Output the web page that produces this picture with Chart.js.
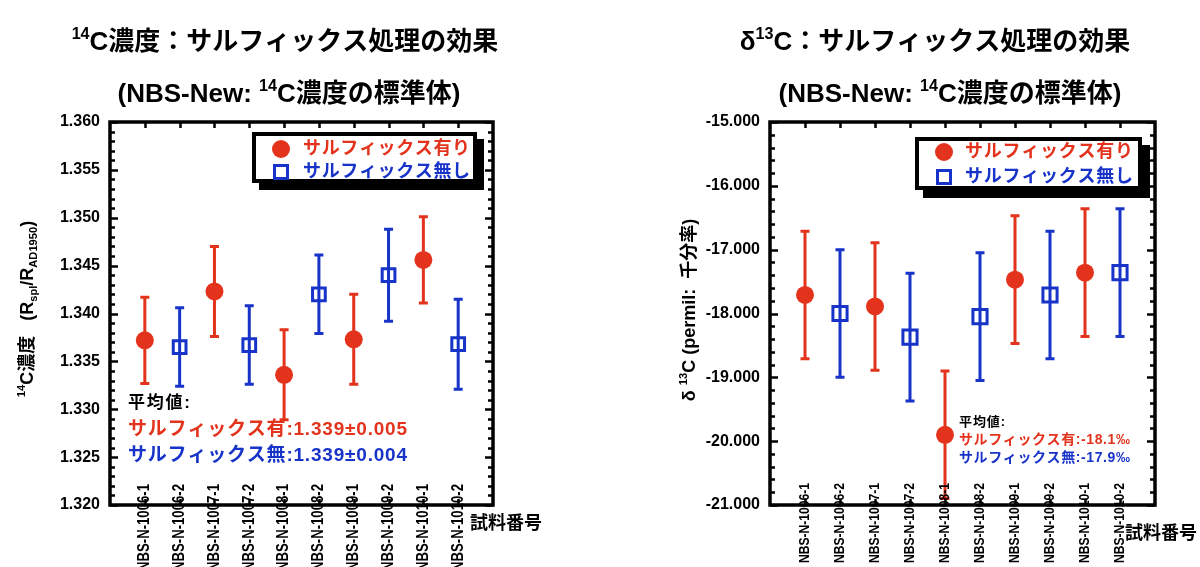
<!DOCTYPE html>
<html>
<head>
<meta charset="utf-8">
<title>サルフィックス処理の効果</title>
<script src="https://cdn.jsdelivr.net/npm/chart.js@4.4.0/dist/chart.umd.min.js"></script>
<style>
  html, body { margin: 0; padding: 0; background: #fff; }
  #wrap { position: relative; width: 1200px; height: 567px; overflow: hidden; }
  .panel { position: absolute; top: 0; width: 600px; height: 567px; }
  canvas { display: block; }
</style>
</head>
<body>
<div id="wrap">
  <div class="panel" style="left:0"><canvas id="c14" width="600" height="567"></canvas></div>
  <div class="panel" style="left:600px"><canvas id="d13" width="600" height="567"></canvas></div>
</div>
<script>
// ---- samples ----
const categories = ['NBS-N-1006-1', 'NBS-N-1006-2', 'NBS-N-1007-1', 'NBS-N-1007-2', 'NBS-N-1008-1',
                    'NBS-N-1008-2', 'NBS-N-1009-1', 'NBS-N-1009-2', 'NBS-N-1010-1', 'NBS-N-1010-2'];
const samplesWith    = ['NBS-N-1006-1', 'NBS-N-1007-1', 'NBS-N-1008-1', 'NBS-N-1009-1', 'NBS-N-1010-1'];
const samplesWithout = ['NBS-N-1006-2', 'NBS-N-1007-2', 'NBS-N-1008-2', 'NBS-N-1009-2', 'NBS-N-1010-2'];
const seriesNames = ['サルフィックス有り', 'サルフィックス無し'];

// ---- 14C concentration (R_spl / R_AD1950) ----
const c14With       = [1.3372, 1.3423, 1.3336, 1.3373, 1.3456];
const c14WithErr    = [0.0045, 0.0047, 0.0047, 0.0047, 0.0045];
const c14Without    = [1.3365, 1.3367, 1.3420, 1.3440, 1.3368];
const c14WithoutErr = [0.0041, 0.0041, 0.0041, 0.0048, 0.0047];
const c14TickLabels = ['1.320', '1.325', '1.330', '1.335', '1.340', '1.345', '1.350', '1.355', '1.360'];
const c14MinorStep  = 0.001;
const c14Means      = ['サルフィックス有:1.339±0.005', 'サルフィックス無:1.339±0.004'];

// ---- delta 13C (permil) ----
const d13With       = [-17.71, -17.89, -19.90, -17.47, -17.36];
const d13WithErr    = [1.00, 1.00, 1.00, 1.00, 1.00];
const d13Without    = [-18.00, -18.37, -18.05, -17.71, -17.36];
const d13WithoutErr = [1.00, 1.00, 1.00, 1.00, 1.00];
const d13TickLabels = ['-21.000', '-20.000', '-19.000', '-18.000', '-17.000', '-16.000', '-15.000'];
const d13MinorStep  = 0.2;
const d13Means      = ['サルフィックス有:-18.1‰', 'サルフィックス無:-17.9‰'];

const RED = '#e4331c';
const BLUE = '#1733c8';
const FAMILY = '"Liberation Sans", "Noto Sans CJK JP", sans-serif';
const font = (size) => `bold ${size}px ${FAMILY}`;

// text with super/subscript pieces
function richWidth(ctx, segs, size) {
  let w = 0;
  for (const s of segs) {
    ctx.font = font(s.sup || s.sub ? size * 0.62 : size);
    w += ctx.measureText(s.t).width;
  }
  return w;
}
function drawRich(ctx, segs, x, y, size, align) {
  const w = richWidth(ctx, segs, size);
  let cx = align === 'center' ? x - w / 2 : x;
  ctx.textAlign = 'left';
  ctx.textBaseline = 'alphabetic';
  for (const s of segs) {
    const fs = s.sup || s.sub ? size * 0.62 : size;
    ctx.font = font(fs);
    const dy = s.sup ? -size * 0.42 : (s.sub ? size * 0.24 : 0);
    ctx.fillText(s.t, cx, y + dy);
    cx += ctx.measureText(s.t).width;
  }
}
// single-line text stretched to a given width via letter spacing
function spacedText(ctx, text, x, y, size, width) {
  ctx.font = font(size);
  ctx.letterSpacing = '0px';
  const w = ctx.measureText(text).width;
  const n = [...text].length;
  ctx.letterSpacing = (n > 1 ? (width - w) / (n - 1) : 0) + 'px';
  ctx.textAlign = 'left';
  ctx.textBaseline = 'middle';
  ctx.fillText(text, x, y);
  ctx.letterSpacing = '0px';
}

const decor = {
  id: 'decor',
  beforeDatasetsDraw(chart) {
    const { ctx, scales: { x, y } } = chart;
    ctx.save();
    ctx.lineWidth = 3;
    ctx.lineCap = 'butt';
    chart.data.datasets.forEach(ds => {
      ctx.strokeStyle = ds.errorColor;
      ds.data.forEach((p, i) => {
        const px = x.getPixelForValue(p.x);
        const y1 = y.getPixelForValue(p.y + ds.errors[i]);
        const y2 = y.getPixelForValue(p.y - ds.errors[i]);
        const cap = 4.5;
        ctx.beginPath();
        ctx.moveTo(px, y1); ctx.lineTo(px, y2);
        ctx.moveTo(px - cap, y1); ctx.lineTo(px + cap, y1);
        ctx.moveTo(px - cap, y2); ctx.lineTo(px + cap, y2);
        ctx.stroke();
      });
    });
    ctx.restore();
  },
  afterDraw(chart, args, o) {
    const { ctx, chartArea: a, scales: { x, y } } = chart;
    ctx.save();
    ctx.fillStyle = '#000';
    ctx.strokeStyle = '#000';

    // sample names, vertical, reaching up into the plot
    x.ticks.forEach(t => {
      const label = categories[t.value - 1];
      if (!label) return;
      ctx.save();
      ctx.font = font(o.xLabel.size);
      const tw = ctx.measureText(label).width;
      ctx.translate(x.getPixelForValue(t.value), o.xLabel.top);
      ctx.rotate(-Math.PI / 2);
      ctx.scale(o.xLabel.len / tw, 1);
      ctx.textAlign = 'right';
      ctx.textBaseline = 'middle';
      ctx.fillText(label, 0, 0);
      ctx.restore();
    });

    // plot frame
    ctx.lineWidth = 3.5;
    ctx.strokeRect(a.left, a.top, a.right - a.left, a.bottom - a.top);

    // inward tick marks on left/right borders
    ctx.lineWidth = 2.5;
    ctx.beginPath();
    y.ticks.forEach(t => {
      const py = Math.round(y.getPixelForValue(t.value)) + 0.5;
      const len = t.label !== '' ? 8 : 5;
      ctx.moveTo(a.left, py); ctx.lineTo(a.left + len, py);
      ctx.moveTo(a.right, py); ctx.lineTo(a.right - len, py);
    });
    // tick marks at each sample on top/bottom borders
    x.ticks.forEach(t => {
      const px = Math.round(x.getPixelForValue(t.value)) + 0.5;
      ctx.moveTo(px, a.top); ctx.lineTo(px, a.top + 6);
      ctx.moveTo(px, a.bottom); ctx.lineTo(px, a.bottom - 6);
    });
    ctx.stroke();

    // legend box with drop shadow
    const L = o.legend;
    ctx.fillStyle = '#000';
    ctx.fillRect(L.x + L.off, L.y + L.off, L.w, L.h);
    ctx.fillRect(L.x, L.y, L.w, L.h);
    ctx.fillStyle = '#fff';
    ctx.fillRect(L.x + 4, L.y + 4, L.w - 8, L.h - 8);
    ctx.fillStyle = RED;
    ctx.beginPath();
    ctx.arc(L.mx, L.rows[0], 9, 0, Math.PI * 2);
    ctx.fill();
    ctx.strokeStyle = BLUE;
    ctx.lineWidth = 3;
    ctx.strokeRect(L.mx - 6.5, L.rows[1] - 6.5, 13, 13);
    ctx.fillStyle = RED;
    spacedText(ctx, seriesNames[0], L.tx, L.rows[0], L.size, L.tw);
    ctx.fillStyle = BLUE;
    spacedText(ctx, seriesNames[1], L.tx, L.rows[1], L.size, L.tw);

    // mean values
    const M = o.means;
    ctx.fillStyle = '#000';
    spacedText(ctx, '平均値:', M.x, M.rows[0], M.headSize, M.headW);
    ctx.fillStyle = RED;
    spacedText(ctx, M.text[0], M.x, M.rows[1], M.size, M.w);
    ctx.fillStyle = BLUE;
    spacedText(ctx, M.text[1], M.x, M.rows[2], M.size, M.w);

    // titles
    ctx.fillStyle = '#000';
    drawRich(ctx, o.title, o.titlePos[0], o.titlePos[1], 26, 'center');
    drawRich(ctx, o.subtitle, o.subtitlePos[0], o.subtitlePos[1], 26, 'center');

    // y-axis title (rotated)
    ctx.save();
    ctx.translate(o.yTitlePos[0], o.yTitlePos[1]);
    ctx.rotate(-Math.PI / 2);
    drawRich(ctx, o.yTitle, 0, 0, o.yTitleSize, 'center');
    ctx.restore();

    // x-axis title
    ctx.font = font(18);
    ctx.textAlign = 'left';
    ctx.textBaseline = 'middle';
    ctx.fillText('試料番号', o.xTitlePos[0], o.xTitlePos[1]);
    ctx.restore();
  }
};

function points(samples, values) {
  return samples.map((s, i) => ({ x: categories.indexOf(s) + 1, y: values[i] }));
}
function labelFor(labels, v, step) {
  const hit = labels.find(l => Math.abs(Number(l) - v) < step / 10);
  return hit === undefined ? '' : hit;
}

function makeChart(id, cfg) {
  const yMin = Number(cfg.tickLabels[0]);
  const yMax = Number(cfg.tickLabels[cfg.tickLabels.length - 1]);
  return new Chart(document.getElementById(id), {
    type: 'scatter',
    data: {
      datasets: [
        {
          label: seriesNames[0], data: points(samplesWith, cfg.red), errors: cfg.redErr, errorColor: RED,
          pointStyle: 'circle', pointRadius: 9, backgroundColor: RED, borderColor: RED, borderWidth: 0
        },
        {
          label: seriesNames[1], data: points(samplesWithout, cfg.blue), errors: cfg.blueErr, errorColor: BLUE,
          pointStyle: 'rect', pointRadius: cfg.rectR, backgroundColor: 'rgba(0,0,0,0)', borderColor: BLUE, borderWidth: 3
        }
      ]
    },
    options: {
      responsive: false,
      animation: false,
      events: [],
      layout: { padding: { top: 122, right: cfg.padRight, bottom: 0, left: 0 } },
      scales: {
        x: {
          type: 'linear', min: 0, max: categories.length + 1,
          afterBuildTicks: s => { s.ticks = categories.map((c, i) => ({ value: i + 1 })); },
          afterFit: s => { s.height = 62; },
          ticks: { display: false },
          grid: { display: false, drawTicks: false },
          border: { display: false }
        },
        y: {
          min: yMin, max: yMax,
          afterBuildTicks: s => {
            const n = Math.round((yMax - yMin) / cfg.minor);
            s.ticks = Array.from({ length: n + 1 }, (_, i) => ({ value: +(yMin + i * cfg.minor).toFixed(6) }));
          },
          afterFit: s => { s.width = cfg.yWidth; },
          ticks: {
            callback: v => labelFor(cfg.tickLabels, v, cfg.minor),
            autoSkip: false, padding: 10,
            font: { family: FAMILY, size: 16, weight: 'bold' }, color: '#000'
          },
          grid: { display: false, drawTicks: false },
          border: { display: false }
        }
      },
      plugins: {
        legend: { display: false },
        tooltip: { enabled: false },
        decor: cfg.decor
      }
    },
    plugins: [decor]
  });
}

makeChart('c14', {
  red: c14With, redErr: c14WithErr, blue: c14Without, blueErr: c14WithoutErr,
  tickLabels: c14TickLabels, minor: c14MinorStep,
  yWidth: 110, padRight: 107, rectR: 9,
  decor: {
    xLabel: { top: 484, len: 87, size: 16 },
    legend: { x: 252, y: 132, w: 225, h: 51, off: 7, mx: 281, tx: 303, tw: 167, size: 18, rows: [149, 172] },
    means: { x: 128, rows: [403, 430, 456], headSize: 17, headW: 62, size: 19, w: 279, text: c14Means },
    title: [{ t: '14', sup: true }, { t: 'C濃度：サルフィックス処理の効果' }],
    titlePos: [285, 50],
    subtitle: [{ t: '(NBS-New: ' }, { t: '14', sup: true }, { t: 'C濃度の標準体)' }],
    subtitlePos: [289, 102],
    yTitle: [{ t: '14', sup: true }, { t: 'C濃度   (R' }, { t: 'spl', sub: true }, { t: '/R' }, { t: 'AD1950', sub: true }, { t: ')' }],
    yTitleSize: 18,
    yTitlePos: [33, 309],
    xTitlePos: [470, 524]
  }
});

makeChart('d13', {
  red: d13With, redErr: d13WithErr, blue: d13Without, blueErr: d13WithoutErr,
  tickLabels: d13TickLabels, minor: d13MinorStep,
  yWidth: 170, padRight: 45, rectR: 10,
  decor: {
    xLabel: { top: 483, len: 80, size: 15 },
    legend: { x: 315, y: 137, w: 227, h: 53, off: 8, mx: 344, tx: 365, tw: 168, size: 18, rows: [152, 177] },
    means: { x: 359, rows: [422, 440, 458], headSize: 13, headW: 46, size: 14, w: 171, text: d13Means },
    title: [{ t: 'δ' }, { t: '13', sup: true }, { t: 'C：サルフィックス処理の効果' }],
    titlePos: [335, 50],
    subtitle: [{ t: '(NBS-New: ' }, { t: '14', sup: true }, { t: 'C濃度の標準体)' }],
    subtitlePos: [350, 102],
    yTitle: [{ t: 'δ ' }, { t: '13', sup: true }, { t: 'C (permil:  千分率)' }],
    yTitleSize: 18,
    yTitlePos: [95, 310],
    xTitlePos: [525, 534]
  }
});
</script>
</body>
</html>
